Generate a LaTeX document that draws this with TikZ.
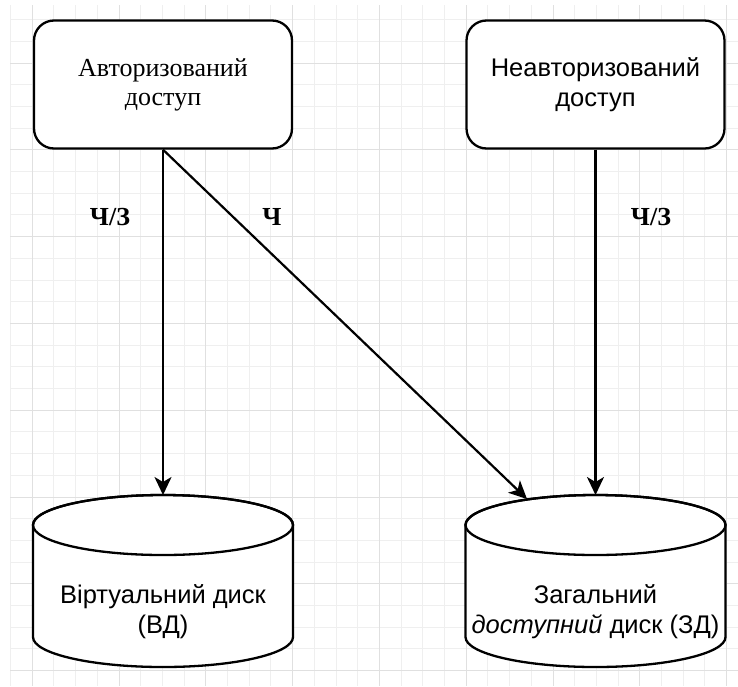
\documentclass[tikz,border=0pt]{standalone}
\usepackage{fontspec}
\setmainfont{Liberation Serif}
\newfontfamily\serifA{Liberation Serif}
\newfontfamily\sansA{Liberation Sans}
\usetikzlibrary{arrows.meta}
\definecolor{gminor}{HTML}{EFEFEF}
\definecolor{gmajor}{HTML}{E0E0E0}
\tikzset{
  box/.style={draw, line width=2.3pt, rounded corners=20pt, minimum width=258pt, minimum height=128pt, inner sep=0pt, align=center, fill=white},
  cyl/.style={draw, line width=2.3pt, fill=white},
  arr/.style={line width=2.2pt, -{Stealth[length=18pt,width=17pt,inset=5pt]}},
  lbl/.style={font=\serifA\bfseries\fontsize{26}{30}\selectfont, inner sep=0pt},
  sanstxt/.style={font=\sansA\fontsize{25.5}{30}\selectfont, align=center},
}
\begin{document}
\begin{tikzpicture}[x=1pt,y=-1pt]
\useasboundingbox (0,0) rectangle (738,686);
\fill[white] (0,0) rectangle (738,686);
% grid
\begin{scope}
\clip (10,5) rectangle (738,686);
\foreach \i in {0,...,34} {
  \draw[gminor, line width=1pt] ({10.5+21.7*\i},0) -- ({10.5+21.7*\i},686);
}
\foreach \i in {0,...,32} {
  \draw[gminor, line width=1pt] (0,{-2.1+21.7*\i}) -- (738,{-2.1+21.7*\i});
}
\foreach \i in {-1,...,8} {
  \draw[gmajor, line width=1pt] ({119+86.8*\i},0) -- ({119+86.8*\i},686);
  \draw[gmajor, line width=1pt] (0,{63+86.8*\i}) -- (738,{63+86.8*\i});
}
\end{scope}
% boxes
\node[box, font=\serifA\fontsize{26}{29}\selectfont] (auth) at (163,84.5) {Авторизований\\доступ};
\node[box, font=\sansA\fontsize{25.5}{30}\selectfont] (unauth) at (595.5,84.5) {Неавторизований\\доступ};
% cylinders
\foreach \cx in {163,595.5} {
  \draw[cyl] (\cx-130,525) -- (\cx-130,637) arc[start angle=180, end angle=360, x radius=130pt, y radius=30pt] -- (\cx+130,525) arc[start angle=0, end angle=180, x radius=130pt, y radius=30pt] -- cycle;
  \draw[line width=2.3pt] (\cx,525) ellipse [x radius=130pt, y radius=30pt];
}
\node[sanstxt] (vd) at (163,612) {Віртуальний диск\\(ВД)};
\node[sanstxt] (zd) at (595.5,612) {Загальний\\\textit{доступний} диск (ЗД)};
\coordinate (vdtop) at (163,495);
\coordinate (zdtop) at (595.5,495);
\coordinate (zdhit) at (527,499);
% connectors
\draw[arr] (auth.south) -- (vdtop);
\draw[arr] (auth.south) -- (zdhit);
\draw[arr] (unauth.south) -- (zdtop);
% labels
\node[lbl] (l1) at (110,217) {Ч/З};
\node[lbl] (l2) at (272,217) {Ч};
\node[lbl] (l3) at (651,217) {Ч/З};
\end{tikzpicture}
\end{document}
